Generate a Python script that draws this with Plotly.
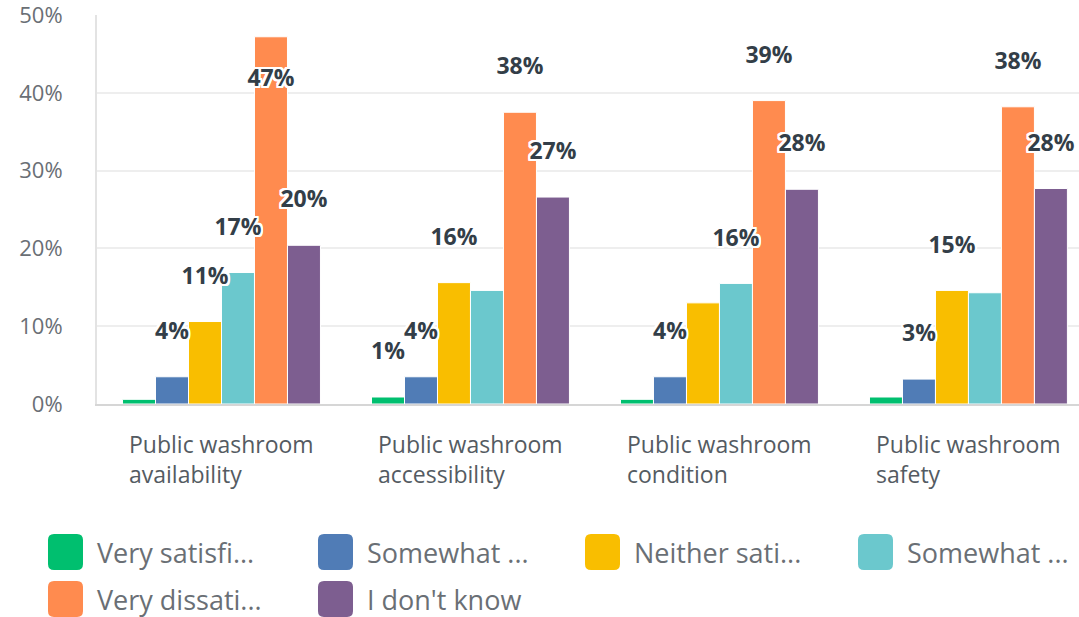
import plotly.graph_objects as go

# Survey categories (x axis) and response series
categories = [
    "Public washroom availability",
    "Public washroom accessibility",
    "Public washroom condition",
    "Public washroom safety",
]
category_lines = [
    "Public washroom<br>availability",
    "Public washroom<br>accessibility",
    "Public washroom<br>condition",
    "Public washroom<br>safety",
]
legend_labels = [
    "Very satisfi...",
    "Somewhat ...",
    "Neither sati...",
    "Somewhat ...",
    "Very dissati...",
    "I don't know",
]
colors = ["#00bf6f", "#507cb6", "#f9be00", "#6bc8cd", "#ff8b4f", "#7d5e90"]

# Percent of respondents
very_satisfied = [0.6, 0.9, 0.6, 0.9]
somewhat_satisfied = [3.5, 3.5, 3.5, 3.2]
neither = [10.6, 15.6, 13.0, 14.6]
somewhat_dissatisfied = [16.9, 14.6, 15.5, 14.3]
very_dissatisfied = [47.2, 37.5, 39.0, 38.2]
dont_know = [20.4, 26.6, 27.6, 27.7]
series_values = [very_satisfied, somewhat_satisfied, neither,
                 somewhat_dissatisfied, very_dissatisfied, dont_know]

# Value labels that are drawn (the rest would collide with neighbours)
show_label = [
    [False, True, False, False],
    [True, True, True, True],
    [True, True, False, True],
    [True, False, True, False],
    [True, True, True, True],
    [True, True, True, True],
]

y_ticks = [0, 10, 20, 30, 40, 50]
y_max = 50

W, H = 1079, 617
M_L, M_R, M_T, M_B = 97, 0, 15, 213
PW, PH = W - M_L - M_R, H - M_T - M_B

BAR_GAP = 0.205
LABEL_OFFSET = 5.6  # value units between bar top and label centre
FONT = "Open Sans"


def px_x(px):
    return (px - M_L) / PW


def px_y(py):
    return (H - M_B - py) / PH


def rounded_rect_path(x0, y0, x1, y1, r):
    """Rounded rectangle given in pixels, returned as a paper-coordinate path."""
    pts = [
        ("M", x0 + r, y0), ("L", x1 - r, y0), ("Q", x1, y0, x1, y0 + r),
        ("L", x1, y1 - r), ("Q", x1, y1, x1 - r, y1), ("L", x0 + r, y1),
        ("Q", x0, y1, x0, y1 - r), ("L", x0, y0 + r), ("Q", x0, y0, x0 + r, y0),
    ]
    parts = []
    for p in pts:
        cmd, coords = p[0], p[1:]
        xy = []
        for k in range(0, len(coords), 2):
            xy.append(f"{px_x(coords[k]):.5f},{px_y(coords[k + 1]):.5f}")
        parts.append(cmd + " ".join(xy))
    return " ".join(parts) + " Z"


halo = ", ".join(f"{dx}px {dy}px 0 #ffffff" for dx in (-2, -1, 0, 1, 2)
                 for dy in (-2, -1, 0, 1, 2) if (dx, dy) != (0, 0))

fig = go.Figure()

for i, vals in enumerate(series_values):
    fig.add_trace(go.Bar(
        x=categories, y=vals, name=legend_labels[i],
        marker=dict(color=colors[i], line=dict(color="#ffffff", width=1)),
        offsetgroup=str(i), showlegend=False, hoverinfo="skip",
    ))

for i, vals in enumerate(series_values):
    ys, texts = [], []
    for j, v in enumerate(vals):
        y = v + LABEL_OFFSET
        if y > y_max - 1.5:
            y = v - LABEL_OFFSET
        ys.append(y)
        texts.append(f"{v:.0f}%" if show_label[i][j] else "")
    fig.add_trace(go.Scatter(
        x=categories, y=ys, text=texts, mode="text",
        textposition="middle center",
        textfont=dict(family=FONT, size=23, color="#333e48",
                      weight="bold", shadow=halo),
        offsetgroup=str(i), showlegend=False, hoverinfo="skip",
        cliponaxis=False,
    ))

# Category labels under the axis (lines left-aligned within a centred block)
for cat, txt in zip(categories, category_lines):
    fig.add_annotation(
        x=cat, y=px_y(426), xref="x", yref="paper",
        text=txt, showarrow=False, align="left",
        xanchor="center", yanchor="top",
        font=dict(family=FONT, size=23, color="#545b62"),
    )

# Legend: rounded swatches with labels
legend_pos = [(48, 552), (318, 552), (585, 552), (858, 552), (48, 599), (318, 599)]
for (lx, ly), lab, col in zip(legend_pos, legend_labels, colors):
    fig.add_shape(
        type="path", xref="paper", yref="paper",
        path=rounded_rect_path(lx, ly - 18, lx + 35, ly + 18, 6),
        fillcolor=col, line=dict(width=0), layer="above",
    )
    fig.add_annotation(
        x=px_x(lx + 47), y=px_y(ly), xref="paper", yref="paper",
        text=lab, showarrow=False, xanchor="left", yanchor="middle",
        font=dict(family=FONT, size=27, color="#6a6f75"),
    )

fig.update_layout(
    width=W, height=H,
    margin=dict(l=M_L, r=M_R, t=M_T, b=M_B, autoexpand=False),
    paper_bgcolor="#ffffff", plot_bgcolor="#ffffff",
    barmode="group", bargap=BAR_GAP, bargroupgap=0.0,
    scattermode="group", scattergap=BAR_GAP,
    showlegend=False,
    xaxis=dict(
        type="category", range=[-0.5, 3.444],
        showticklabels=False, showgrid=False, ticks="",
        showline=True, linecolor="#d6d6d6", linewidth=2,
    ),
    yaxis=dict(
        range=[0, y_max], tickvals=y_ticks,
        ticktext=[f"{t}%" for t in y_ticks],
        showgrid=True, gridcolor="#eeeeee", gridwidth=2,
        zeroline=False, showline=True, linecolor="#e3e3e3", linewidth=2,
        ticks="", ticklabelstandoff=28, ticklabeloverflow="allow",
        tickfont=dict(family=FONT, size=22, color="#6a6f75"),
    ),
)

fig.write_html("out.html")
